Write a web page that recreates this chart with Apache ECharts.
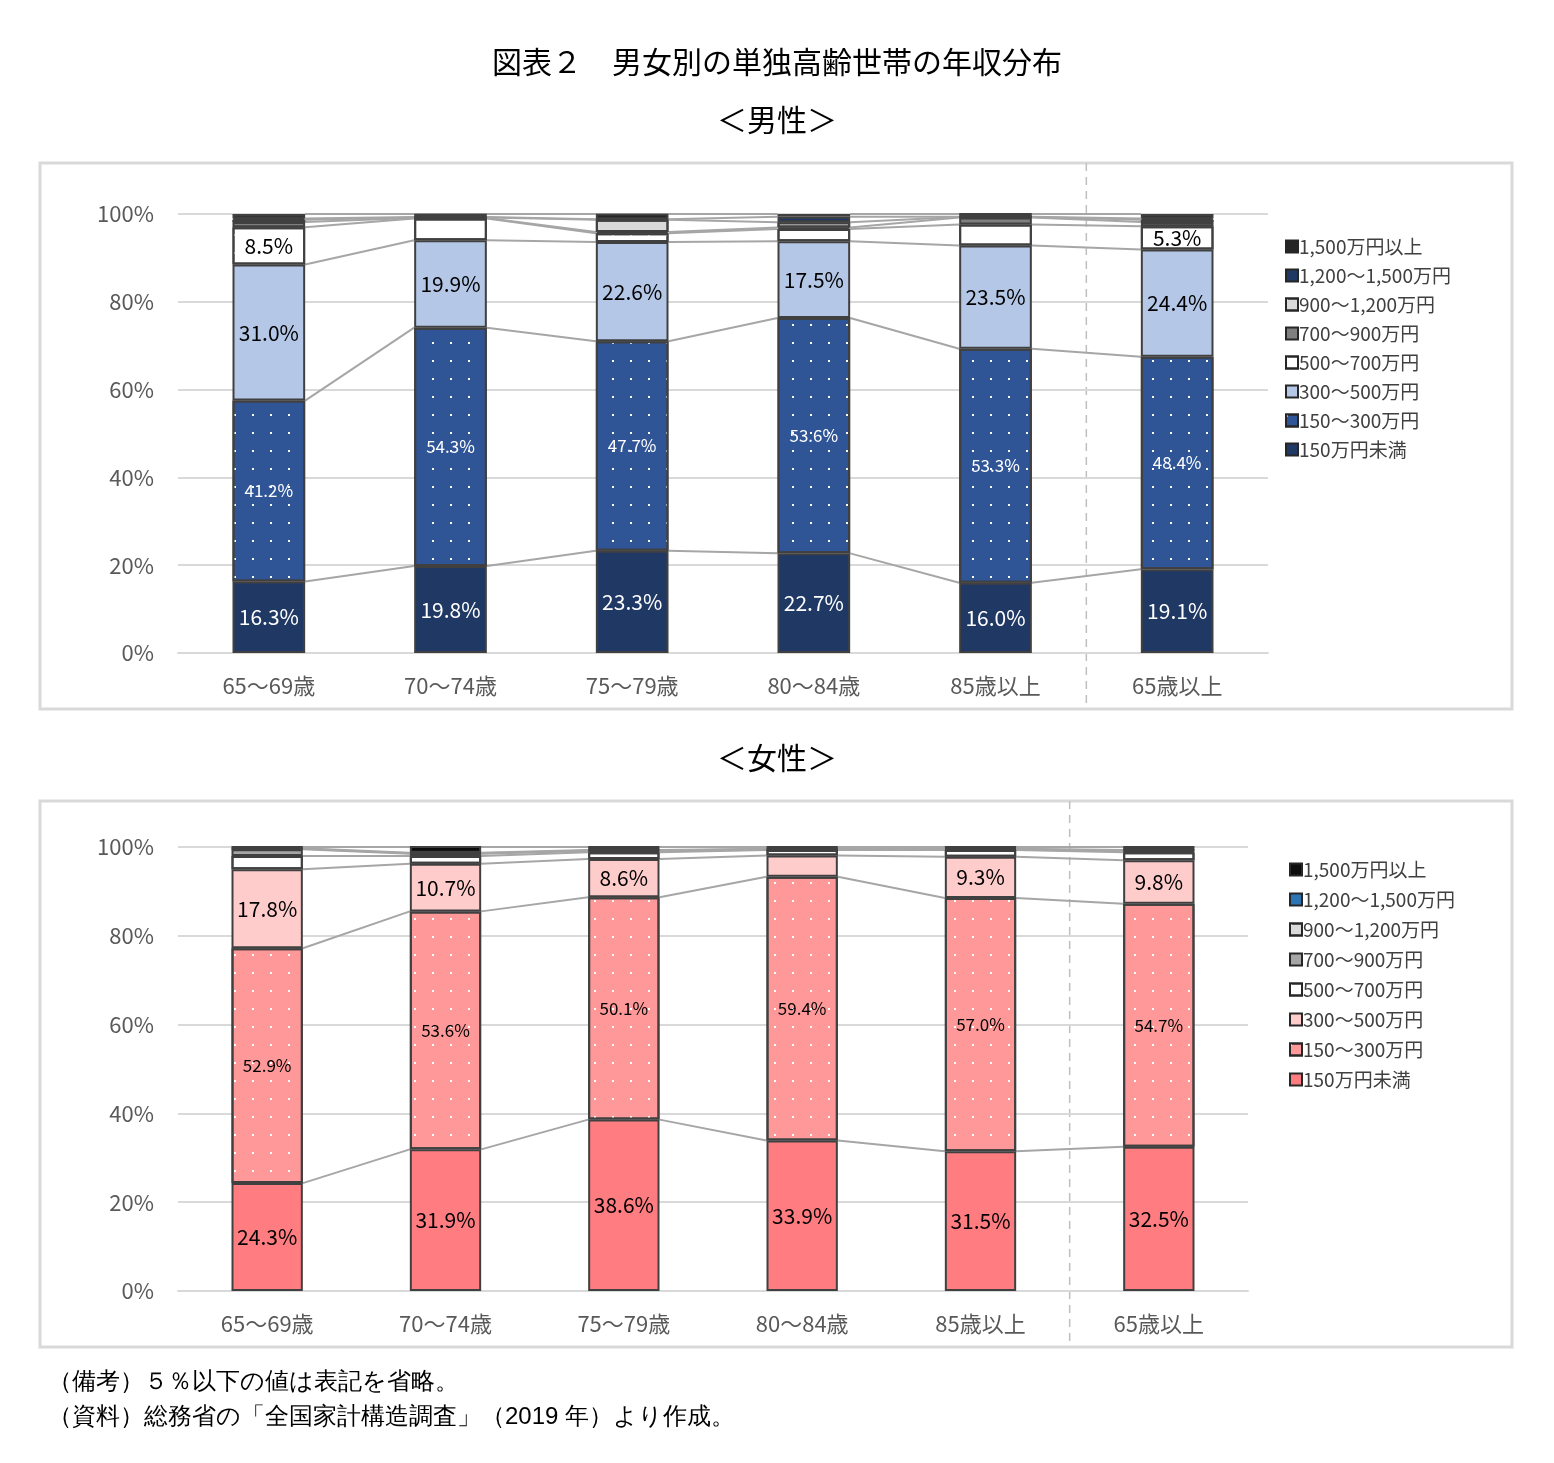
<!DOCTYPE html>
<html>
<head>
<meta charset="utf-8">
<script src="https://cdn.jsdelivr.net/npm/echarts@6/dist/echarts.min.js"></script>
<style>
body{margin:0;background:#fff;}
#main{width:1554px;height:1463px;}
</style>
</head>
<body>
<div id="main"></div>
<script>
var categories = ['65～69歳', '70～74歳', '75～79歳', '80～84歳', '85歳以上', '65歳以上'];
var seriesNames = ['150万円未満', '150～300万円', '300～500万円', '500～700万円', '700～900万円', '900～1,200万円', '1,200～1,500万円', '1,500万円以上'];
var yTicks = [0, 20, 40, 60, 80, 100];

// 男性（%）
var male = [
    [16.3, 19.8, 23.3, 22.7, 16.0, 19.1],
    [41.2, 54.3, 47.7, 53.6, 53.3, 48.4],
    [31.0, 19.9, 22.6, 17.5, 23.5, 24.4],
    [8.5, 5.0, 2.0, 2.8, 4.8, 5.3],
    [1.2, 0.1, 0.3, 0.3, 1.6, 1.0],
    [0.5, 0.1, 2.8, 1.2, 0.1, 0.5],
    [0.3, 0.1, 0.1, 1.3, 0.1, 0.3],
    [1.0, 0.8, 1.3, 0.6, 0.8, 1.0]
];
// 女性（%）
var female = [
    [24.3, 31.9, 38.6, 33.9, 31.5, 32.5],
    [52.9, 53.6, 50.1, 59.4, 57.0, 54.7],
    [17.8, 10.7, 8.6, 4.8, 9.3, 9.8],
    [3.0, 1.8, 1.5, 1.2, 1.5, 1.8],
    [1.5, 0.5, 0.3, 0.1, 0.1, 0.3],
    [0.1, 0.1, 0.1, 0.1, 0.1, 0.1],
    [0.1, 0.1, 0.1, 0.1, 0.1, 0.1],
    [0.5, 1.5, 0.9, 0.7, 0.7, 0.9]
];

var maleColors = ['#1f3864', '#2f5597', '#b4c7e7', '#ffffff', '#7f7f7f', '#d9d9d9', '#203864', '#262626'];
var femaleColors = ['#ff7c80', '#ff9999', '#ffcccc', '#ffffff', '#a6a6a6', '#d9d9d9', '#2e75b6', '#0d0d0d'];
var dotted = [false, true, false, true, false, true, false, false];
var font = '"Noto Sans CJK JP", "Noto Sans", sans-serif';

var myChart = echarts.init(document.getElementById('main'));

function dots(){
    return {symbol: 'rect', symbolSize: 1, color: '#ffffff', dashArrayX: [[2, 16]], dashArrayY: [2, 16], rotation: 0};
}

function buildSeries(data, colors, gi, isMale){
    var list = [];
    for (var s = 0; s < data.length; s++) {
        var labelColor = '#000';
        if (isMale && (s == 0 || s == 1)) labelColor = '#fff';
        var small = (s == 1);
        list.push({
            name: seriesNames[s],
            type: 'bar',
            stack: 'st' + gi,
            xAxisIndex: gi,
            yAxisIndex: gi,
            barWidth: '40%',
            data: data[s],
            itemStyle: {
                color: colors[s],
                borderColor: '#404040',
                borderWidth: 2,
                decal: dotted[s] ? dots() : null
            },
            label: {
                show: true,
                color: labelColor,
                fontSize: small ? 17 : 21,
                fontFamily: font,
                formatter: function(p){ return p.value > 5 ? p.value.toFixed(1) + '%' : ''; }
            },
            z: 3
        });
    }
    // 区分の境目を結ぶ線
    list.push({
        type: 'custom',
        xAxisIndex: gi,
        yAxisIndex: gi,
        silent: true,
        z: 2,
        data: categories.slice(0, categories.length - 1).map(function(c, i){ return i; }),
        renderItem: function(params, api){
            var i = api.value(0);
            var bw = api.size([1, 0])[0] * 0.4;
            var children = [];
            var c1 = 0, c2 = 0;
            for (var s = 0; s < data.length; s++) {
                c1 += data[s][i];
                c2 += data[s][i + 1];
                var p1 = api.coord([i, Math.min(c1, 100)]);
                var p2 = api.coord([i + 1, Math.min(c2, 100)]);
                children.push({
                    type: 'line',
                    shape: {x1: p1[0] + bw / 2, y1: p1[1], x2: p2[0] - bw / 2, y2: p2[1]},
                    style: {stroke: '#a6a6a6', lineWidth: 2}
                });
            }
            return {type: 'group', children: children};
        },
        encode: {x: 0}
    });
    return list;
}

function legendData(colors){
    return seriesNames.slice().reverse().map(function(n){
        var idx = seriesNames.indexOf(n);
        return {name: n, itemStyle: {color: colors[idx], borderColor: '#262626', borderWidth: 2, decal: null}};
    });
}

function xAxis(gi){
    return {
        type: 'category', gridIndex: gi, data: categories,
        axisLine: {show: true, lineStyle: {color: '#d9d9d9', width: 2}},
        axisTick: {show: false},
        axisLabel: {fontSize: 22, color: '#595959', fontFamily: font, margin: 22}
    };
}
function yAxis(gi){
    return {
        type: 'value', gridIndex: gi, min: yTicks[0], max: yTicks[yTicks.length - 1], interval: 20,
        axisLine: {show: false}, axisTick: {show: false},
        splitLine: {lineStyle: {color: '#d9d9d9', width: 2}},
        axisLabel: {fontSize: 22, color: '#595959', fontFamily: font, formatter: '{value}%', margin: 24}
    };
}

var option = {
    backgroundColor: '#fff',
    animation: false,
    textStyle: {fontFamily: font},
    title: [
        {text: '図表２　男女別の単独高齢世帯の年収分布', left: 'center', top: 42, textStyle: {fontSize: 30, fontWeight: 'normal', color: '#000'}},
        {text: '＜男性＞', left: 'center', top: 100, textStyle: {fontSize: 30, fontWeight: 'normal', color: '#000'}},
        {text: '＜女性＞', left: 'center', top: 738, textStyle: {fontSize: 30, fontWeight: 'normal', color: '#000'}}
    ],
    legend: [
        {
            orient: 'vertical', left: 1280, top: 232, itemGap: 10, itemWidth: 12, itemHeight: 12,
            icon: 'rect', selectedMode: false,
            textStyle: {fontSize: 19, color: '#404040', padding: [0, 0, 0, -4]},
            data: legendData(maleColors).map(function(d){ d.name = d.name; return d; })
        },
        {
            orient: 'vertical', left: 1284, top: 855, itemGap: 11, itemWidth: 12, itemHeight: 12,
            icon: 'rect', selectedMode: false,
            textStyle: {fontSize: 19, color: '#404040', padding: [0, 0, 0, -4]},
            data: []
        }
    ],
    grid: [
        {left: 178, top: 214, width: 1090, height: 439},
        {left: 178, top: 847, width: 1070, height: 444}
    ],
    xAxis: [xAxis(0), xAxis(1)],
    yAxis: [yAxis(0), yAxis(1)],
    series: buildSeries(male, maleColors, 0, true),
    graphic: [
        {type: 'rect', shape: {x: 40, y: 163, width: 1472, height: 546}, style: {fill: 'none', stroke: '#d9d9d9', lineWidth: 3}, z: -1},
        {type: 'rect', shape: {x: 40, y: 801, width: 1472, height: 546}, style: {fill: 'none', stroke: '#d9d9d9', lineWidth: 3}, z: -1},
        {type: 'text', left: 48, top: 1370, style: {text: '（備考）５％以下の値は表記を省略。', fontSize: 24, fill: '#000', font: '24px ' + font}},
        {type: 'text', left: 48, top: 1405, style: {text: '（資料）総務省の「全国家計構造調査」（2019 年）より作成。', fontSize: 24, fill: '#000', font: '24px ' + font}}
    ]
};

// 女性用の系列は別名にするとlegendが混ざるため、legendは独自に描く
var femaleSeries = buildSeries(female, femaleColors, 1, false);
femaleSeries.forEach(function(s){ if (s.name) s.name = s.name + ' '; });
option.series = option.series.concat(femaleSeries);
option.legend[1].data = legendData(femaleColors).map(function(d){ d.name = d.name + ' '; return d; });

myChart.setOption(option);

// 「65歳以上」の前の区切り線
var g = [];
[[0, 163, 709], [1, 801, 1347]].forEach(function(a){
    var p1 = myChart.convertToPixel({xAxisIndex: a[0]}, 4);
    var p2 = myChart.convertToPixel({xAxisIndex: a[0]}, 5);
    var x = (p1 + p2) / 2;
    g.push({type: 'line', shape: {x1: x, y1: a[1], x2: x, y2: a[2]}, style: {stroke: '#bfbfbf', lineWidth: 1.5, lineDash: [8, 6]}, z: -1});
});
myChart.setOption({graphic: option.graphic.concat(g)});
</script>
</body>
</html>
